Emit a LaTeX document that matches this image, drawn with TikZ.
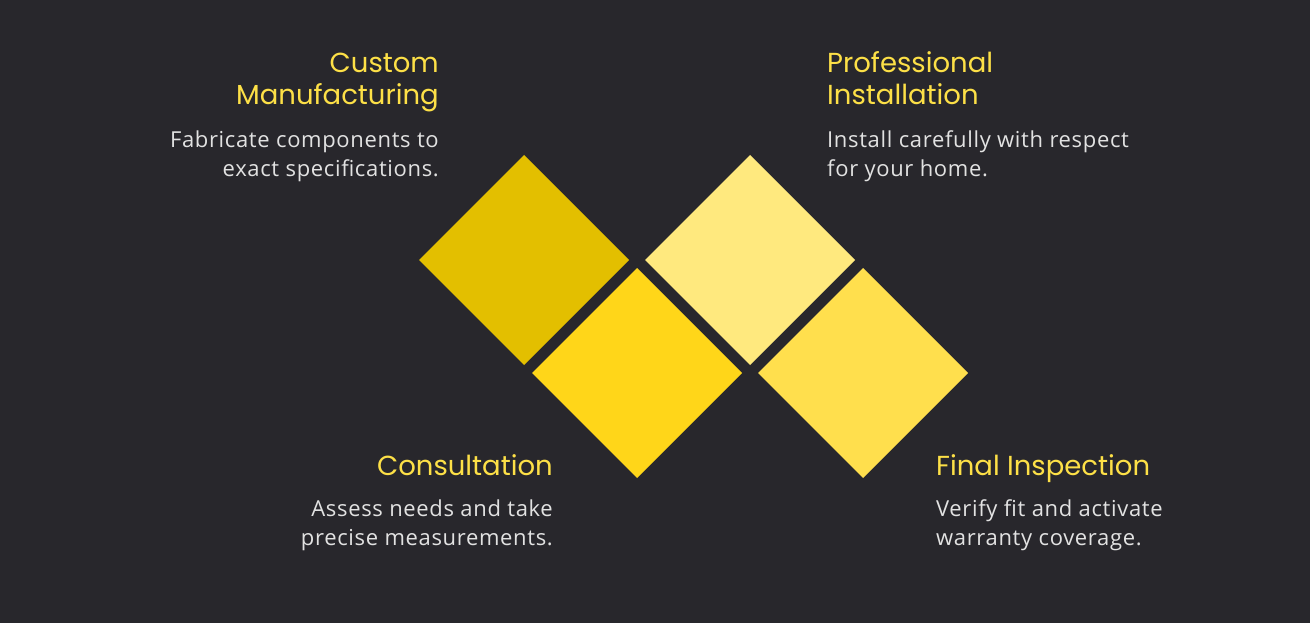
\documentclass[tikz,border=0pt]{standalone}
\usepackage{fontspec}
\setmainfont[LetterSpace=3]{Open Sans}
\newfontfamily\headfont{Poppins}
\usepackage{tikz}
\usetikzlibrary{shapes.geometric}
\definecolor{background}{HTML}{28272C}
\definecolor{headyellow}{HTML}{FDE047}
\definecolor{textgrey}{HTML}{E2E2E2}
\definecolor{darkgold}{HTML}{E3BF00}
\definecolor{goldyellow}{HTML}{FFD619}
\definecolor{paleyellow}{HTML}{FFE97E}
\definecolor{softyellow}{HTML}{FFDF4D}

\begin{document}
\begin{tikzpicture}[x=1pt, y=-1pt,
	tile/.style={diamond, minimum width=210pt, minimum height=210pt, inner sep=0pt, outer sep=0pt},
	heading/.style={font=\headfont\fontsize{27.5}{32}\selectfont, text=headyellow, inner sep=0pt},
	caption/.style={font=\fontsize{22}{29}\selectfont, text=textgrey, inner sep=0pt}]
	
	\fill[background] (0,0) rectangle (1310,623);
	\useasboundingbox (0,0) rectangle (1310,623);
	
	% tiles
	\node[tile, fill=darkgold] (manufacturing) at (524,260) {};
	\node[tile, fill=goldyellow] (consultation) at (637,373) {};
	\node[tile, fill=paleyellow] (installation) at (750,260) {};
	\node[tile, fill=softyellow] (inspection) at (863,373) {};
	
	% Custom Manufacturing (base = last line)
	\node[heading, align=right, anchor=base east] (manufacturinghead) at (439,105) {Custom\\Manufacturing};
	\node[caption, align=right, anchor=base east] (manufacturingtext) at (439,177) {Fabricate components to\\exact specifications.};
	
	% Professional Installation
	\node[heading, align=left, anchor=base west] (installationhead) at (827,105) {Professional\\Installation};
	\node[caption, align=left, anchor=base west] (installationtext) at (827,177) {Install carefully with respect\\for your home.};
	
	% Consultation
	\node[heading, align=right, anchor=base east] (consultationhead) at (553,475) {Consultation};
	\node[caption, align=right, anchor=base east] (consultationtext) at (553,545) {Assess needs and take\\precise measurements.};
	
	% Final Inspection
	\node[heading, align=left, anchor=base west] (inspectionhead) at (936,475) {Final Inspection};
	\node[caption, align=left, anchor=base west] (inspectiontext) at (936,545) {Verify fit and activate\\warranty coverage.};
	
\end{tikzpicture}
\end{document}
